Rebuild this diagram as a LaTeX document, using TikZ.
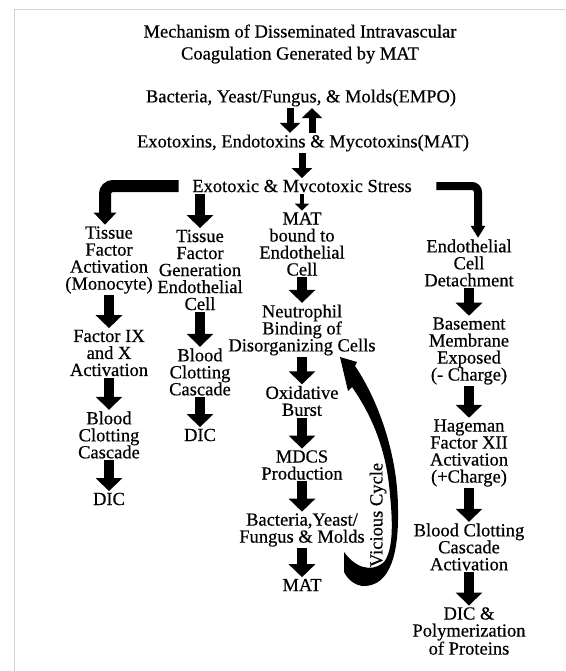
\documentclass[tikz,border=0pt]{standalone}
\usepackage{fontspec}
\setmainfont{Liberation Serif}[FakeBold=0.5]
\usetikzlibrary{arrows.meta}
\tikzset{>=stealth}
\tikzset{
  txt/.style={align=center, inner sep=1.5pt, font=\fontsize{18.5}{17}\selectfont},
  blk/.style={line width=10pt, -{Triangle[width=26pt,length=13pt]}},
  blkm/.style={line width=7pt, -{Triangle[width=20pt,length=10pt]}},
  blks/.style={line width=4pt, -{Triangle[width=14pt,length=7pt]}},
  bentl/.style={line width=12pt, rounded corners=8pt, -{Triangle[width=22pt,length=12pt]}},
  bentr/.style={line width=8pt, rounded corners=6pt, -{Triangle[width=14pt,length=12pt]}}
}

\begin{document}
\begin{tikzpicture}[x=1pt, y=-1pt]
    \useasboundingbox (0,0) rectangle (565,671);
    \draw[black!18, line width=1pt] (14,671) -- (14,10) -- (565,10);

    \node[txt, font=\fontsize{18.5}{22}\selectfont] (title) at (300,44) {Mechanism of Disseminated Intravascular\\Coagulation Generated by MAT};
    \node[txt] (bact) at (301,98) {Bacteria, Yeast/Fungus, \& Molds(EMPO)};
    \node[txt] (exo) at (303,143) {Exotoxins, Endotoxins \& Mycotoxins(MAT)};
    \node[txt] (stress) at (302,186) {Exotoxic \& Mvcotoxic Stress};

    \node[txt] (tfa) at (109,260) {Tissue\\Factor\\Activation\\(Monocyte)};
    \node[txt] (f9) at (109,353) {Factor IX\\and X\\Activation};
    \node[txt] (bcc1) at (109,435) {Blood\\Clotting\\Cascade};
    \node[txt] (dic1) at (109,499) {DIC};

    \node[txt] (tfg) at (200,270) {Tissue\\Factor\\Generation\\Endothelial\\Cell};
    \node[txt] (bcc2) at (200,372) {Blood\\Clotting\\Cascade};
    \node[txt] (dic2) at (200,435) {DIC};

    \node[txt] (matb) at (302,244) {MAT\\bound to\\Endothelial\\Cell};
    \node[txt] (neut) at (302,330) {Neutrophil\\Binding of\\Disorganizing Cells};
    \node[txt] (oxid) at (302,401) {Oxidative\\Burst};
    \node[txt] (mdcs) at (302,465) {MDCS\\Production};
    \node[txt] (bact2) at (302,530) {Bacteria,Yeast/\\Fungus \& Molds};
    \node[txt] (mat) at (302,585) {MAT};

    \node[txt] (ecd) at (469,263) {Endothelial\\Cell\\Detachment};
    \node[txt] (bme) at (469,351) {Basement\\Membrane\\Exposed\\(- Charge)};
    \node[txt] (hag) at (469,453) {Hageman\\Factor XII\\Activation\\(+Charge)};
    \node[txt] (bcca) at (469,547) {Blood Clotting\\Cascade\\Activation};
    \node[txt] (dicp) at (469,631) {DIC \&\\Polymerization\\of Proteins};

    \node[txt, rotate=90] (vc) at (378,515) {Vicious Cycle};

    \draw[blkm] ([xshift=-11pt]bact.south) -- ([xshift=-11pt]bact.south |- exo.north);
    \draw[blkm] ([xshift=11pt]bact.south |- exo.north) -- ([xshift=11pt]bact.south);
    \draw[blkm] (exo.south -| stress.north) -- (stress.north);
    \draw[blks] (stress.south) -- (matb.north);
    \draw[bentl] ([xshift=-12pt]stress.west) -| ([xshift=-4pt]tfa.north);
    \draw[bentr] ([xshift=23pt]stress.east) -| ([xshift=9pt]ecd.north);
    \draw[blk] (stress.south -| tfg.north) -- (tfg.north);

    \draw[blk] (tfa.south) -- (f9.north);
    \draw[blk] (f9.south) -- (bcc1.north);
    \draw[blk] (bcc1.south) -- (dic1.north);
    \draw[blk] (tfg.south) -- (bcc2.north);
    \draw[blk] (bcc2.south) -- (dic2.north);
    \draw[blk] (matb.south) -- (neut.north);
    \draw[blk] (neut.south) -- (oxid.north);
    \draw[blk] (oxid.south) -- (mdcs.north);
    \draw[blk] (mdcs.south) -- (bact2.north);
    \draw[blk] (bact2.south) -- (mat.north);
    \draw[blk] (ecd.south) -- (bme.north);
    \draw[blk] (bme.south) -- (hag.north);
    \draw[blk] (hag.south) -- (bcca.north);
    \draw[blk] (bcca.south) -- (dicp.north);

    \fill (340,357) -- (357,362) -- (355,366)
        .. controls (375,395) and (398,450) .. (398,510)
        .. controls (399,565) and (385,587) .. (362,586)
        .. controls (355,585) and (348,580) .. (344,572) -- (344,552)
        .. controls (354,566) and (370,574) .. (384,562)
        .. controls (393,550) and (393,525) .. (390,495)
        .. controls (387,455) and (375,420) .. (352,387)
        -- (348,391) -- cycle;
\end{tikzpicture}
\end{document}
